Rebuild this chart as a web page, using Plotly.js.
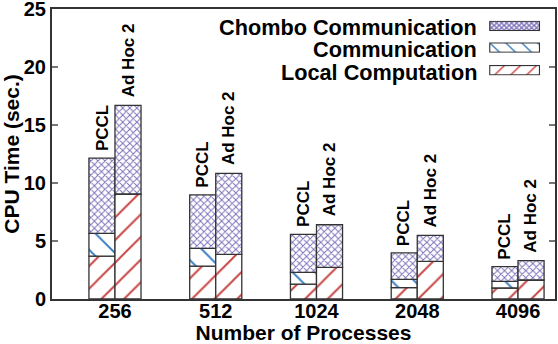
<!DOCTYPE html>
<html>
<head>
<meta charset="utf-8">
<script src="https://cdn.plot.ly/plotly-3.0.1.min.js"></script>
<style>html,body{margin:0;padding:0;background:#fff;}#chart{width:558px;height:344px;}</style>
</head>
<body>
<div id="chart"></div>
<script>
// ---- data ----
const processes = ['256', '512', '1024', '2048', '4096'];
const variants = ['PCCL', 'Ad Hoc 2'];
const seriesNames = ['Chombo Communication', 'Communication', 'Local Computation'];
// PCCL segment heights (seconds)
const pcclLocal  = [3.70, 2.84, 1.29, 0.98, 0.95];
const pcclComm   = [1.96, 1.53, 1.01, 0.72, 0.57];
const pcclChombo = [6.49, 4.60, 3.27, 2.27, 1.27];
// Ad Hoc 2 segment heights (seconds)
const adhocLocal  = [9.05, 3.85, 2.73, 3.25, 1.64];
const adhocComm   = [0, 0, 0, 0, 0];
const adhocChombo = [7.65, 6.98, 3.67, 2.24, 1.66];
const yTicks = [0, 5, 10, 15, 20, 25];

// ---- styling ----
const FONT = 'Liberation Sans, Arial, sans-serif';
const EDGE = '#333333';
const C_CHOMBO = '#7a70b8';
const C_COMM = '#3d7fbf';
const C_LOCAL = '#c84444';

const xIdx = processes.map((_, i) => i);
const add = (a, b) => a.map((v, i) => v + b[i]);

function seg(name, group, vals, base, shape, color, size, solidity) {
  return {
    type: 'bar', name: name, x: xIdx, y: vals, base: base,
    offsetgroup: group, showlegend: false, hoverinfo: 'skip',
    marker: {
      color: 'white',
      line: {color: EDGE, width: 1.3},
      pattern: {shape: shape, fgcolor: color, bgcolor: 'white', size: size, solidity: solidity, fillmode: 'replace'}
    }
  };
}

const zero = processes.map(() => 0);
const traces = [
  seg(seriesNames[2], 'p', pcclLocal, zero, '/', C_LOCAL, 16, 0.12),
  seg(seriesNames[1], 'p', pcclComm, pcclLocal, '\\', C_COMM, 16, 0.12),
  seg(seriesNames[0], 'p', pcclChombo, add(pcclLocal, pcclComm), 'x', C_CHOMBO, 5, 0.35),
  seg(seriesNames[2], 'a', adhocLocal, zero, '/', C_LOCAL, 16, 0.12),
  seg(seriesNames[1], 'a', adhocComm, adhocLocal, '\\', C_COMM, 16, 0.12),
  seg(seriesNames[0], 'a', adhocChombo, add(adhocLocal, adhocComm), 'x', C_CHOMBO, 5, 0.35)
];

const pcclTotal = add(add(pcclLocal, pcclComm), pcclChombo);
const adhocTotal = add(add(adhocLocal, adhocComm), adhocChombo);

const annotations = [];
xIdx.forEach(i => {
  annotations.push({x: i, y: pcclTotal[i], xref: 'x', yref: 'y', text: variants[0], textangle: -90,
    showarrow: false, xanchor: 'center', yanchor: 'bottom', xshift: -13, yshift: 5,
    font: {family: FONT, size: 17, weight: 'bold', color: '#000'}});
  annotations.push({x: i, y: adhocTotal[i], xref: 'x', yref: 'y', text: variants[1], textangle: -90,
    showarrow: false, xanchor: 'center', yanchor: 'bottom', xshift: 13, yshift: 6,
    font: {family: FONT, size: 17, weight: 'bold', color: '#000'}});
});

// custom legend (text right-aligned, swatch on the right)
function swatch(kind) {
  let pat;
  if (kind === 0) {
    pat = '<pattern id="p" width="5" height="5" patternUnits="userSpaceOnUse">' +
      '<path d="M0,0L5,5M5,0L0,5" stroke="' + C_CHOMBO + '" stroke-width="1.3"/></pattern>';
  } else if (kind === 1) {
    pat = '<pattern id="p" width="16" height="16" patternUnits="userSpaceOnUse">' +
      '<path d="M0,0L16,16M-8,8L8,24M8,-8L24,8" stroke="' + C_COMM + '" stroke-width="1.5"/></pattern>';
  } else {
    pat = '<pattern id="p" width="16" height="16" patternUnits="userSpaceOnUse">' +
      '<path d="M0,16L16,0M-8,8L8,-8M8,24L24,8" stroke="' + C_LOCAL + '" stroke-width="1.5"/></pattern>';
  }
  const svg = '<svg xmlns="http://www.w3.org/2000/svg" width="51" height="11" viewBox="0 0 51 11" preserveAspectRatio="none">' +
    '<defs>' + pat + '</defs><rect x="0.6" y="0.6" width="49.8" height="9.8" fill="white"/>' +
    '<rect x="0.6" y="0.6" width="49.8" height="9.8" fill="url(#p)" stroke="' + EDGE + '" stroke-width="1.2"/></svg>';
  return 'data:image/svg+xml;charset=utf-8,' + encodeURIComponent(svg);
}

const legTop = [0.9597, 0.885, 0.807];
const legMid = [0.935, 0.859, 0.781];
const images = [];
seriesNames.forEach((n, k) => {
  images.push({source: swatch(k), xref: 'paper', yref: 'paper', x: 0.869, y: legTop[k],
    sizex: 0.1014, sizey: 0.036, sizing: 'stretch', xanchor: 'left', yanchor: 'top', layer: 'above'});
  annotations.push({x: 0.848, y: legMid[k], xref: 'paper', yref: 'paper', text: n, showarrow: false,
    xanchor: 'right', yanchor: 'middle', font: {family: FONT, size: 21.7, weight: 'bold', color: '#000'}});
});

const layout = {
  width: 558, height: 344,
  margin: {l: 52, r: 3, t: 9, b: 45, pad: 0},
  paper_bgcolor: 'white', plot_bgcolor: 'white',
  barmode: 'group', bargap: 0.483, bargroupgap: 0,
  showlegend: false,
  font: {family: FONT, size: 20, color: '#000', weight: 'bold'},
  xaxis: {
    range: [-0.625, 4.367], tickvals: xIdx, ticktext: processes,
    ticks: '', showgrid: false, zeroline: false, ticklabelstandoff: -7,
    showline: true, linecolor: EDGE, linewidth: 2, mirror: true,
    tickfont: {family: FONT, size: 20, weight: 'bold', color: '#000'},
    title: {text: 'Number of Processes', standoff: 2, font: {family: FONT, size: 21, weight: 'bold', color: '#000'}}
  },
  yaxis: {
    range: [0, 25], tickvals: yTicks, ticks: 'inside', ticklen: 6, tickcolor: '#777', tickwidth: 1.2,
    showgrid: false, zeroline: false, ticklabeloverflow: 'allow',
    showline: true, linecolor: EDGE, linewidth: 2, mirror: 'ticks',
    tickfont: {family: FONT, size: 20, weight: 'bold', color: '#000'},
    title: {text: 'CPU Time (sec.)', standoff: 2, font: {family: FONT, size: 21, weight: 'bold', color: '#000'}}
  },
  annotations: annotations,
  images: images
};

Plotly.newPlot('chart', traces, layout, {displayModeBar: false, staticPlot: true});
</script>
</body>
</html>
